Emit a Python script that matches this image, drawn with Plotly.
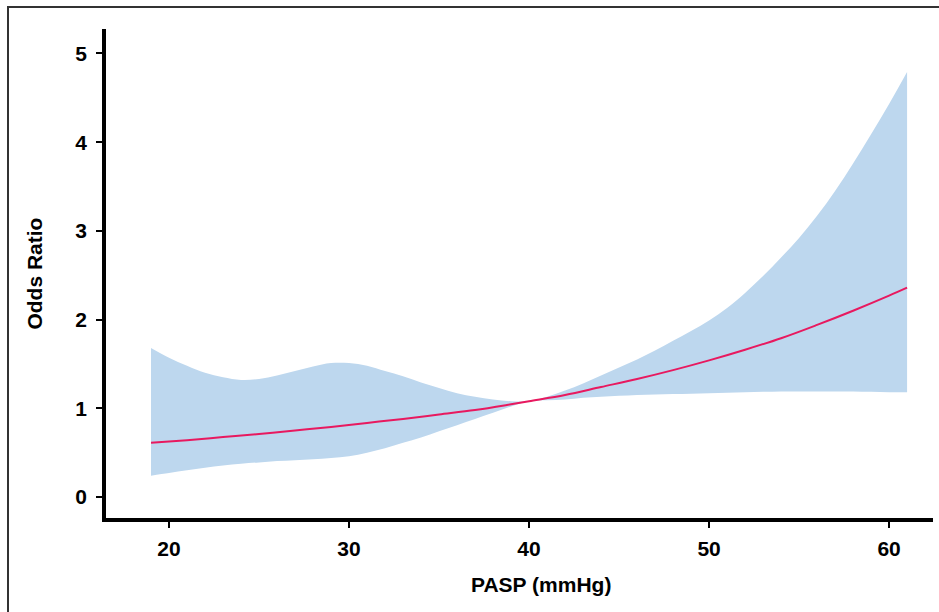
import plotly.graph_objects as go

# Band (95% CI) values
x_band = [19, 20, 21, 22, 23, 24, 25, 26, 27, 28, 29, 30, 31, 32, 33, 34, 35, 36, 37, 38, 39,
          40, 41, 42, 43, 44, 45, 46, 47, 48, 49, 50, 51, 52, 53, 54, 55, 56, 57, 58, 59, 60, 61]
upper = [1.68, 1.57, 1.48, 1.40, 1.35, 1.32, 1.33, 1.37, 1.42, 1.47, 1.51, 1.51, 1.48, 1.42, 1.36,
         1.29, 1.23, 1.17, 1.13, 1.10, 1.08, 1.08, 1.13, 1.20, 1.28, 1.37, 1.46, 1.55, 1.65, 1.76,
         1.87, 1.99, 2.13, 2.30, 2.49, 2.70, 2.92, 3.17, 3.45, 3.76, 4.09, 4.43, 4.79]
lower = [0.24, 0.27, 0.30, 0.33, 0.355, 0.375, 0.39, 0.405, 0.415, 0.425, 0.44, 0.46, 0.50, 0.55,
         0.61, 0.67, 0.74, 0.81, 0.88, 0.95, 1.02, 1.08, 1.09, 1.10, 1.12, 1.13, 1.14, 1.15, 1.155,
         1.16, 1.165, 1.17, 1.175, 1.18, 1.185, 1.19, 1.19, 1.19, 1.19, 1.19, 1.185, 1.18, 1.18]

# Odds ratio curve
x_line = [19, 21, 23, 25, 27, 29, 31, 33, 35, 37, 39, 40, 42, 44, 46, 48, 50, 52, 54, 56, 58, 60, 61]
odds = [0.61, 0.64, 0.675, 0.71, 0.75, 0.79, 0.835, 0.88, 0.93, 0.98, 1.045, 1.08, 1.15, 1.24,
        1.33, 1.43, 1.54, 1.66, 1.79, 1.94, 2.10, 2.27, 2.36]

x_ticks = [20, 30, 40, 50, 60]
y_ticks = [0, 1, 2, 3, 4, 5]

FONT = "Liberation Sans, Arial, sans-serif"
FS = 21

fig = go.Figure()
fig.add_trace(go.Scatter(x=x_band, y=upper, mode="lines", line=dict(width=0, shape="spline"),
                         hoverinfo="skip", showlegend=False))
fig.add_trace(go.Scatter(x=x_band, y=lower, mode="lines", line=dict(width=0, shape="spline"),
                         fill="tonexty", fillcolor="#BDD7EE", hoverinfo="skip", showlegend=False))
fig.add_trace(go.Scatter(x=x_line, y=odds, mode="lines",
                         line=dict(color="#E8195F", width=2, shape="spline"), showlegend=False))

fig.update_layout(
    width=939, height=612,
    margin=dict(l=106, r=6, t=29, b=94),
    paper_bgcolor="white", plot_bgcolor="white",
    font=dict(family=FONT, size=FS, color="black"),
    xaxis=dict(range=[16.5, 62.44], tickvals=x_ticks, ticks="outside", ticklen=6, tickwidth=2,
               tickcolor="black", showline=True, linecolor="black", linewidth=3.5,
               ticklabelstandoff=3,
               showgrid=False, zeroline=False, tickfont=dict(family=FONT, size=FS, weight="bold")),
    yaxis=dict(range=[-0.237, 5.276], tickvals=y_ticks, ticks="outside", ticklen=6, tickwidth=2,
               tickcolor="black", showline=True, linecolor="black", linewidth=3.5,
               ticklabelstandoff=5,
               showgrid=False, zeroline=False, tickfont=dict(family=FONT, size=FS, weight="bold")),
    annotations=[
        dict(text="<b>PASP (mmHg)</b>", xref="paper", yref="paper", x=0.526, y=-0.135,
             xanchor="center", yanchor="middle", showarrow=False, font=dict(family=FONT, size=FS)),
        dict(text="<b>Odds Ratio</b>", xref="paper", yref="paper", x=-0.087, y=0.5,
             xanchor="center", yanchor="middle", textangle=-90, showarrow=False,
             font=dict(family=FONT, size=FS)),
    ],
    shapes=[dict(type="rect", xref="paper", yref="paper", x0=-0.1185, x1=1.05, y0=-0.3, y1=1.045,
                 line=dict(color="#333333", width=2), layer="below")],
)

fig.write_html("out.html", config={"displayModeBar": False},
               post_script="document.body.style.margin='0';document.body.style.overflow='hidden';")
